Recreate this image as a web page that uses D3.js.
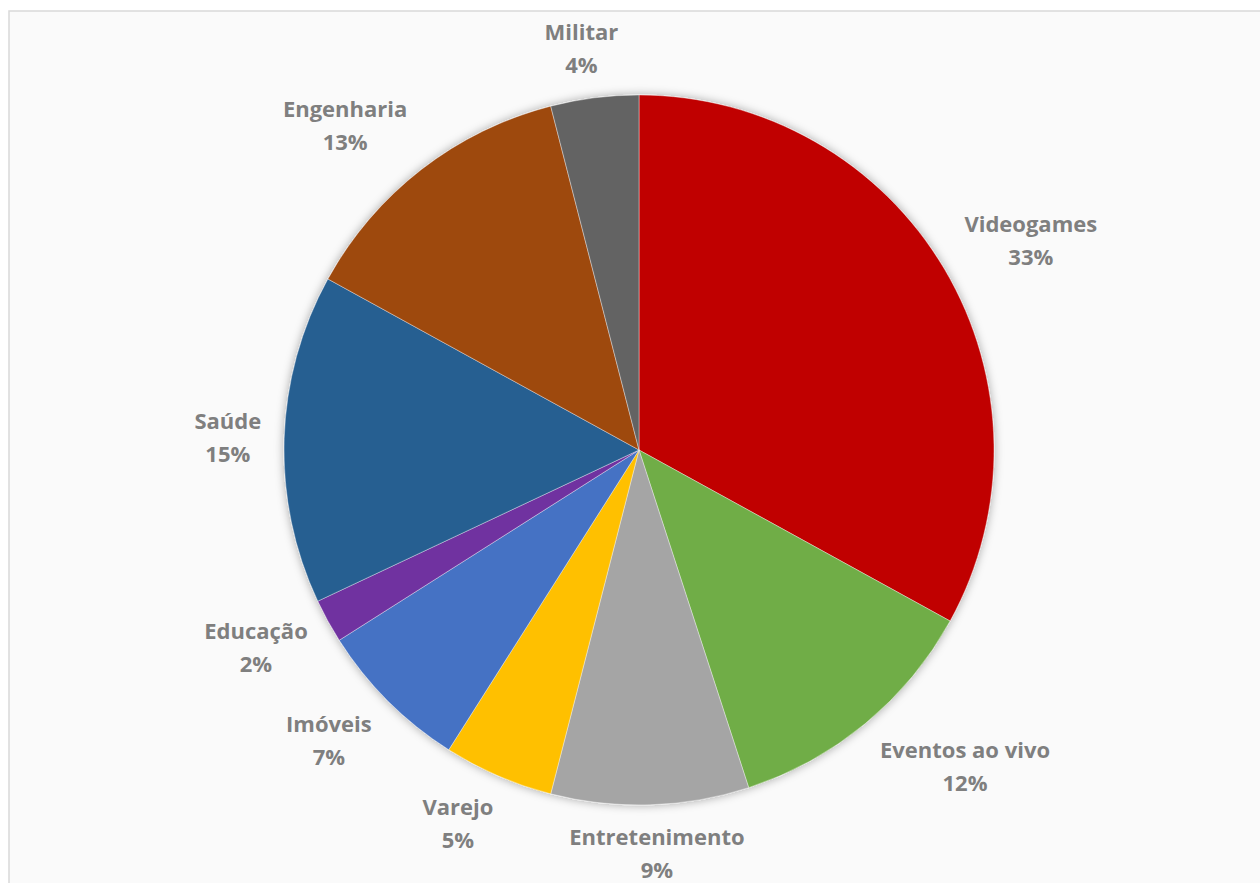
<!DOCTYPE html>
<html>
<head>
<meta charset="utf-8">
<script src="https://cdn.jsdelivr.net/npm/d3@7"></script>
<style>
  body { margin: 0; background: #fff; }
  svg { display: block; }
</style>
</head>
<body>
<div id="chart"></div>
<script>
// data
const categories = ['Videogames', 'Eventos ao vivo', 'Entretenimento', 'Varejo', 'Imóveis',
    'Educação', 'Saúde', 'Engenharia', 'Militar'];
const shares = [33, 12, 9, 5, 7, 2, 15, 13, 4];
const colors = ['#C00000', '#70AD47', '#A5A5A5', '#FFC000', '#4472C4',
    '#7030A0', '#255E91', '#9E480E', '#636363'];

const width = 1260, height = 883;
const cx = 639, cy = 450, radius = 355, gapX = 23, gapY = 16, lineH = 33;

const data = categories.map((c, i) => ({ name: c, value: shares[i], color: colors[i] }));

const svg = d3.select('#chart').append('svg')
    .attr('width', width).attr('height', height);

const defs = svg.append('defs');
defs.append('filter').attr('id', 'shadow')
    .attr('x', '-10%').attr('y', '-10%').attr('width', '120%').attr('height', '120%')
    .append('feDropShadow')
    .attr('dx', 0).attr('dy', 0).attr('stdDeviation', 5)
    .attr('flood-color', '#000').attr('flood-opacity', 0.35);

// chart area frame
svg.append('rect')
    .attr('x', 9).attr('y', 11)
    .attr('width', width).attr('height', height)
    .attr('fill', '#FAFAFA').attr('stroke', '#D9D9D9').attr('stroke-width', 1.5);

const pie = d3.pie().sort(null).value(d => d.value);
const arc = d3.arc().innerRadius(0).outerRadius(radius);
const arcs = pie(data);

const chart = svg.append('g').attr('transform', `translate(${cx},${cy})`);

chart.append('g').attr('filter', 'url(#shadow)')
    .selectAll('path.slice')
    .data(arcs)
    .join('path')
    .classed('slice', true)
    .attr('d', arc)
    .attr('fill', d => d.data.color)
    .attr('stroke', '#fff').attr('stroke-opacity', 0.5).attr('stroke-width', 0.75);

// labels: text box pushed out along the mid angle, just outside the pie
const labels = chart.append('g')
    .selectAll('text.label')
    .data(arcs)
    .join('text')
    .classed('label', true)
    .attr('text-anchor', 'middle')
    .style('font-family', '"Open Sans", sans-serif')
    .style('font-weight', 700)
    .style('font-size', '22px')
    .attr('fill', '#7F7F7F');

labels.selectAll('tspan')
    .data(d => [d.data.name, d.data.value + '%'])
    .join('tspan')
    .attr('x', 0)
    .attr('dy', (d, i) => i === 0 ? 0 : lineH)
    .text(d => d);

labels.each(function(d) {
    const box = this.getBBox();
    const w = box.width, h = lineH * 2;
    const a = (d.startAngle + d.endAngle) / 2;
    const s = Math.sin(a), c = -Math.cos(a);
    const clamp = v => Math.max(-1, Math.min(1, v));
    const px = (radius + gapX) * s + clamp(s * 2.2) * w / 2;
    const py = (radius + gapY) * c + clamp(c * 1.2) * h / 2;
    // first baseline so that the two-line block is centred on (px, py)
    d3.select(this).attr('transform', `translate(${px},${py - lineH / 2 + 8})`);
});
</script>
</body>
</html>
